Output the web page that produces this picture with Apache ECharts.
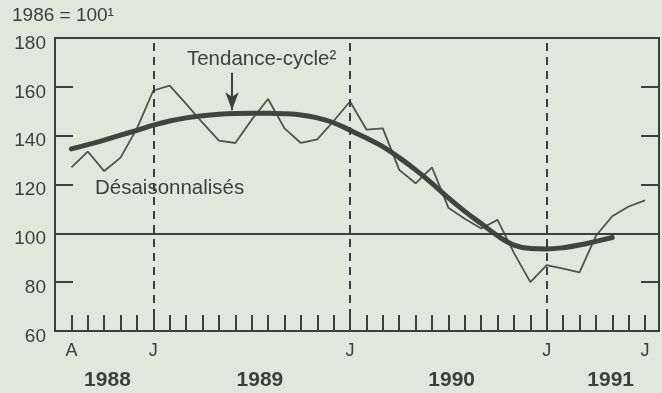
<!DOCTYPE html>
<html>
<head>
<meta charset="utf-8">
<script src="https://cdn.jsdelivr.net/npm/echarts@6/dist/echarts.min.js"></script>
<style>
  html, body { margin: 0; padding: 0; background: #e2e7dc; }
  #chart { width: 662px; height: 393px; }
</style>
</head>
<body>
<div id="chart"></div>
<script>
// Month index: 0 = juillet 1988, 36 = juillet 1991
const firstMonth = 1; // août 1988

// Indice désaisonnalisé (1986 = 100)
const desaisonnalises = [
  127, 133.5, 125.5, 131, 143, 158.5, 160.5, 153, 145.3, 138, 137, 146.5,
  155, 143, 137, 138.5, 146, 154, 142.5, 143, 126, 120.5, 127, 110.5,
  106, 102, 105.5, 92, 80, 87, 85.5, 84, 99, 107, 111, 113.5
];

// Tendance-cycle
const tendanceCycle = [
  134.6, 136.3, 138.2, 140.2, 142.2, 144.3, 146, 147.3, 148.2, 148.8, 149.1, 149.2,
  149.2, 149, 148.5, 147.3, 145.3, 142.2, 139, 135.5, 131, 126, 120.5, 114.5,
  109, 104, 99, 95.2, 93.8, 93.6, 94.1, 95.2, 96.7, 98.3
];

// Month letters shown under the axis
const monthLabels = { 1: 'A', 6: 'J', 18: 'J', 30: 'J', 36: 'J' };
// Januaries marked by dashed verticals
const januaries = [6, 18, 30];
// Year captions and where they sit along the month axis
const years = ['1988', '1989', '1990', '1991'];
const yearAt = [3.2, 12.5, 24.2, 33.9];

const yTicks = { min: 60, max: 180, step: 20 };

const ink = '#3b4138';
const lineInk = '#4d5549';
const font = "'Liberation Sans', Arial, Helvetica, sans-serif";

const toPairs = (arr) => arr.map((v, i) => [firstMonth + i, v]);

const chart = echarts.init(document.getElementById('chart'), null, { renderer: 'canvas' });

const option = {
  backgroundColor: '#e2e7dc',
  animation: false,
  grid: {
    left: 55, right: 3, top: 38, bottom: 62,
    show: true, borderColor: ink, borderWidth: 2, backgroundColor: 'transparent'
  },
  xAxis: {
    type: 'value', min: 0, max: 36.85, interval: 1,
    axisLine: { show: false },
    splitLine: { show: false },
    axisTick: { show: true, inside: true, length: 16, lineStyle: { color: ink, width: 2 } },
    axisLabel: {
      margin: 11, color: ink, fontFamily: font, fontSize: 18,
      showMinLabel: true, showMaxLabel: true,
      formatter: (v) => monthLabels[Math.round(v)] && Math.abs(v - Math.round(v)) < 1e-6 ? monthLabels[Math.round(v)] : ''
    }
  },
  yAxis: [
    {
      type: 'value', min: yTicks.min, max: yTicks.max, interval: yTicks.step,
      axisLine: { show: false },
      splitLine: { show: false },
      axisTick: { show: true, inside: true, length: 18, lineStyle: { color: ink, width: 2 } },
      axisLabel: {
        margin: 9, color: ink, fontFamily: font, fontSize: 19,
        formatter: '{v|{value}}',
        rich: { v: { color: ink, fontFamily: font, fontSize: 19, padding: [11, 0, 0, 0] } }
      }
    },
    {
      type: 'value', position: 'right', min: yTicks.min, max: yTicks.max, interval: yTicks.step,
      axisLine: { show: false },
      splitLine: { show: false },
      axisTick: { show: true, inside: true, length: 18, lineStyle: { color: ink, width: 2 } },
      axisLabel: { show: false }
    }
  ],
  series: [
    {
      name: 'Désaisonnalisés',
      type: 'line',
      data: toPairs(desaisonnalises),
      showSymbol: false,
      lineStyle: { color: lineInk, width: 1.8 },
      z: 3,
      markLine: {
        silent: true,
        symbol: 'none',
        label: { show: false },
        lineStyle: { color: ink, width: 2, type: [8, 6] },
        data: januaries.map((m) => ({ xAxis: m }))
      }
    },
    {
      name: 'Tendance-cycle',
      type: 'line',
      data: toPairs(tendanceCycle),
      smooth: 0.4,
      showSymbol: false,
      lineStyle: { color: '#3f473c', width: 5, cap: 'round' },
      z: 4,
      markLine: {
        silent: true,
        symbol: 'none',
        label: { show: false },
        lineStyle: { color: ink, width: 2, type: 'solid' },
        data: [{ yAxis: 100 }]
      }
    },
    {
      // arrow pointing at the trend curve
      type: 'line',
      data: [],
      markLine: {
        silent: true,
        symbol: ['none', 'arrow'],
        symbolSize: [10, 18],
        label: { show: false },
        lineStyle: { color: ink, width: 2, type: 'solid' },
        data: [[{ coord: [10.8, 165.8] }, { coord: [10.8, 150.4] }]]
      }
    }
  ]
};

chart.setOption(option);

// Captions placed through the grid's coordinate system
const at = (m, v) => chart.convertToPixel({ gridIndex: 0 }, [m, v]);
const graphics = [];

const unitPos = at(0, 180);
graphics.push({
  type: 'text', x: 12, y: unitPos[1] - 22,
  style: { text: '1986 = 100¹', fill: ink, font: `19px ${font}`, verticalAlign: 'middle' }
});

const tPos = at(8.05, 171.3);
graphics.push({
  type: 'text', x: tPos[0], y: tPos[1],
  style: { text: 'Tendance-cycle²', fill: ink, font: `20.5px ${font}`, verticalAlign: 'middle' }
});

const dPos = at(2.44, 118.3);
graphics.push({
  type: 'text', x: dPos[0], y: dPos[1],
  style: { text: 'Désaisonnalisés', fill: ink, font: `20.5px ${font}`, verticalAlign: 'middle' }
});

years.forEach((y, i) => {
  const p = at(yearAt[i], 60);
  graphics.push({
    type: 'text', x: p[0], y: p[1] + 49,
    style: { text: y, fill: ink, font: `bold 21px ${font}`, align: 'center', verticalAlign: 'middle' }
  });
});

chart.setOption({ graphic: graphics });
</script>
</body>
</html>
